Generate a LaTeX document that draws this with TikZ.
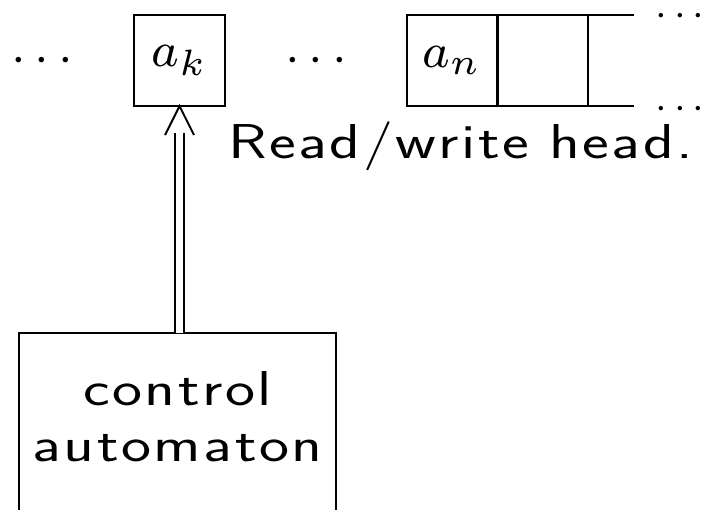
\documentclass[tikz,border=0pt]{standalone}
\newdimen\lskip
\lskip=0.7pt
\def\lsp#1{\lspB#1\relax}
\def\lspB#1{#1\lspA}
\def\lspA#1{\ifx\relax#1\else\kern\lskip#1\expandafter\lspA\fi}
\begin{document}
\begin{tikzpicture}[x=0.5pt,y=-0.5pt,
  every node/.style={inner sep=0pt, outer sep=0pt},
  lbl/.style={font=\fontsize{17.28}{19.76}\selectfont\sffamily, xscale=1.842, yscale=1.417},
  cell/.style={draw, line width=1pt, font=\fontsize{8}{9.15}\selectfont, scale=3.06,
     minimum width=14.87pt, minimum height=14.87pt},
  dotsl/.style={font=\fontsize{8}{9.15}\selectfont, scale=3.1, anchor=base},
  dotss/.style={font=\fontsize{8}{9.15}\selectfont, scale=2.47, anchor=base},
  thick line/.style={line width=1pt}]
\useasboundingbox (0,0) rectangle (704,509);
% tape
\node[cell] (ak) at (179.5,60.5) {$a_k$};
\node[cell] (an) at (452,60.5) {$a_n$};
\node[cell] (ae) at (542.5,60.5) {};
\node[dotsl] (d1) at (42,72.9) {$\cdots$};
\node[dotsl] (d2) at (316,72.9) {$\cdots$};
\coordinate (te) at ([xshift=23pt]ae.north east);
\coordinate (be) at ([xshift=23pt]ae.south east);
\draw[thick line] (ae.north east) -- (te);
\draw[thick line] (ae.south east) -- (be);
\node[dotss] (d3) at (680,25) {$\cdots$};
\node[dotss] (d4) at (680,118) {$\cdots$};
% label
\node[lbl, anchor=base west] (rw) at (228,158) {\lsp{Read/write}\ \lsp{head.}};
% control automaton
\node[draw, thick line, minimum width=158.5pt, minimum height=117pt] (ctrl) at (177.5,450) {};
\node[lbl, align=center] (ct) at (177.5,417) {\lsp{control}\\\lsp{automaton}};
% head arrow
\coordinate (hb) at ([yshift=-13.5pt]ak.south);
\draw[thick line, double, double distance=3.5pt] (ak.south |- ctrl.north) -- (hb);
\draw[thick line] ([shift={(-7.25pt,-14.5pt)}]ak.south) -- (ak.south) -- ([shift={(7.25pt,-14.5pt)}]ak.south);
\end{tikzpicture}
\end{document}
